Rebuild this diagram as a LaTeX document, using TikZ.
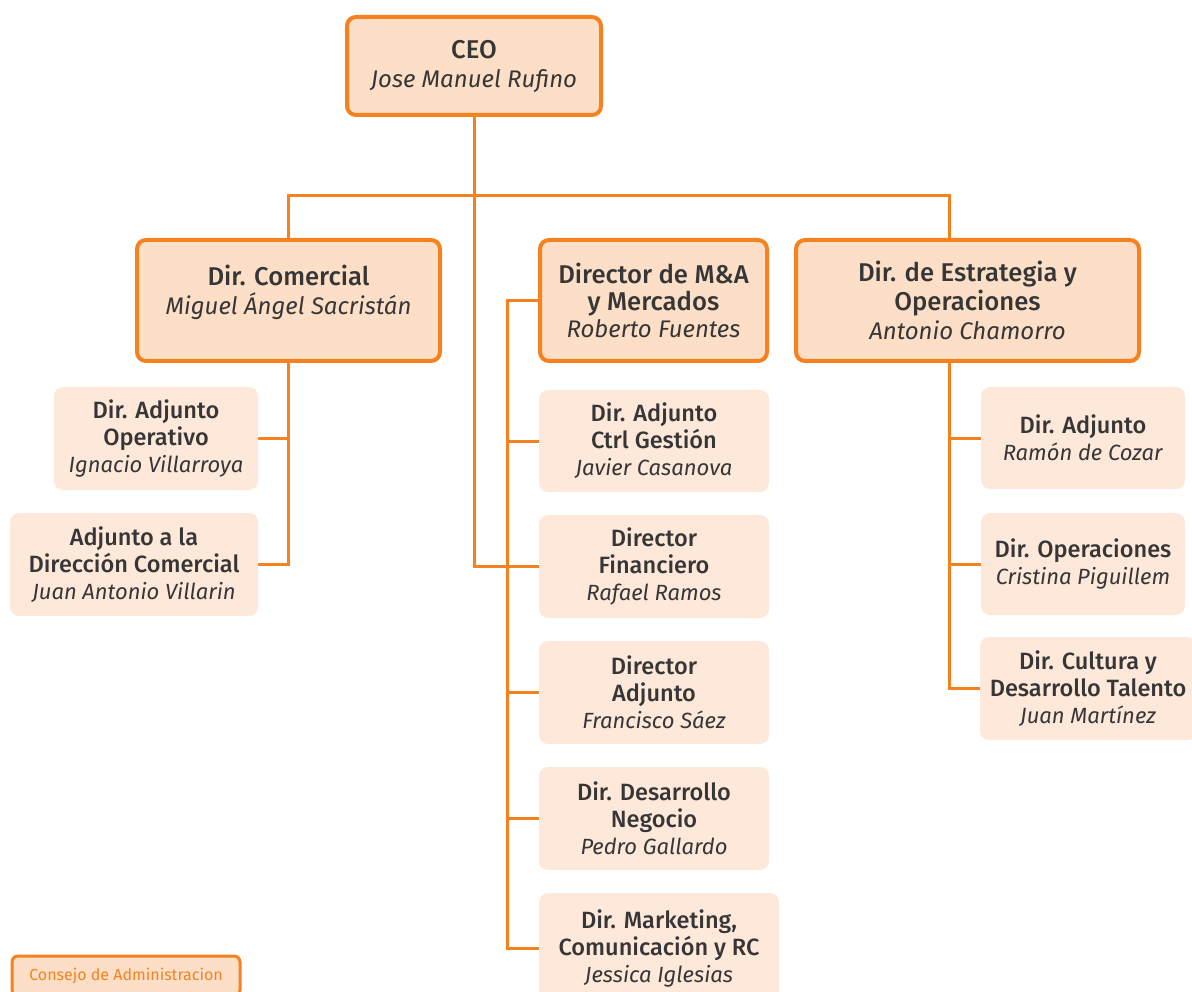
\documentclass[tikz,border=0pt]{standalone}
\usepackage{fontspec}
\setmainfont{Fira Sans}[BoldFont={* Medium}, BoldItalicFont={* Medium Italic}]
\usetikzlibrary{backgrounds}
\definecolor{org}{HTML}{F5821F}
\definecolor{mainfill}{HTML}{FCDFC6}
\definecolor{subfill}{HTML}{FDE8DA}
\definecolor{txt}{HTML}{363636}
\makeatletter
\newcommand{\tl}[1]{{\bfseries\fontsize{\dimexpr\f@size pt*107/100\relax}{\f@baselineskip}\selectfont #1}}
\makeatother
\newcommand{\nm}[1]{\textit{#1}}
\tikzset{
  mainbox/.style={draw=org, line width=4pt, fill=mainfill, rounded corners=9pt,
    align=center, text=txt, font=\fontsize{24}{29}\selectfont, inner sep=0pt},
  subbox/.style={fill=subfill, rounded corners=9pt, align=center, text=txt,
    font=\fontsize{22}{27}\selectfont, inner sep=0pt},
  legendbox/.style={draw=org, line width=3pt, fill=mainfill, rounded corners=6pt,
    text=org, font=\fontsize{16}{18}\selectfont, inner sep=0pt},
  conn/.style={draw=org, line width=3pt},
  sz/.style 2 args={minimum width=#1, minimum height=#2},
}
\begin{document}
\begin{tikzpicture}[x=1pt, y=-1pt]
\useasboundingbox (0,0) rectangle (1192,992);
\clip (0,0) rectangle (1192,992);

% main boxes
\node[mainbox, sz={254pt}{98pt}] (ceo) at (474,66) {\tl{CEO}\\\nm{Jose Manuel Rufino}};
\node[mainbox, sz={303pt}{121pt}] (dc) at (288.5,300.5) {\tl{Dir. Comercial}\\\nm{Miguel Ángel Sacristán}\\[-8pt]};
\node[mainbox, sz={227pt}{121pt}] (ma) at (653.5,300.5) {\tl{Director de M\&A}\\[-2pt]\tl{y Mercados}\\[-2pt]\nm{Roberto Fuentes}};
\node[mainbox, sz={343pt}{121pt}] (de) at (967.5,300.5) {\tl{Dir. de Estrategia y}\\\tl{Operaciones}\\\nm{Antonio Chamorro}};

% left sub boxes
\node[subbox, sz={204pt}{103pt}] (aco) at (156,438.5) {\tl{Dir. Adjunto}\\\tl{Operativo}\\\nm{Ignacio Villarroya}};
\node[subbox, sz={248pt}{103pt}] (acom) at (134,564.5) {\tl{Adjunto a la}\\\tl{Dirección Comercial}\\\nm{Juan Antonio Villarin}};

% middle sub boxes
\node[subbox, sz={230pt}{102pt}] (ctrl) at (654,441) {\tl{Dir. Adjunto}\\\tl{Ctrl Gestión}\\\nm{Javier Casanova}};
\node[subbox, sz={230pt}{103pt}] (fin) at (654,566.5) {\tl{Director}\\\tl{Financiero}\\\nm{Rafael Ramos}};
\node[subbox, sz={230pt}{103pt}] (adj) at (654,692.5) {\tl{Director}\\\tl{Adjunto}\\\nm{Francisco Sáez}};
\node[subbox, sz={230pt}{103pt}] (des) at (654,818.5) {\tl{Dir. Desarrollo}\\\tl{Negocio}\\\nm{Pedro Gallardo}};
\node[subbox, sz={240pt}{110pt}] (mk) at (659,948) {\tl{Dir. Marketing,}\\\tl{Comunicación y RC}\\\nm{Jessica Iglesias}};

% right sub boxes
\node[subbox, sz={204pt}{102pt}] (radj) at (1083,438) {\tl{Dir. Adjunto}\\\nm{Ramón de Cozar}};
\node[subbox, sz={204pt}{102pt}] (rop) at (1083,564) {\tl{Dir. Operaciones}\\\nm{Cristina Piguillem}};
\node[subbox, sz={216pt}{103pt}] (rcu) at (1088,688.5) {\tl{Dir. Cultura y}\\\tl{Desarrollo Talento}\\\nm{Juan Martínez}};

% legend
\node[legendbox, sz={228pt}{40pt}] (cons) at (126,976) {Consejo de Administracion};

\begin{pgfonlayer}{background}
  \coordinate (bus) at (474,196);
  \coordinate (dtop) at ([xshift=-18.5pt]de.north);
  \coordinate (dbot) at ([xshift=-18.5pt]de.south);
  \coordinate (mtop) at (507,300.5);
  % CEO
  \draw[conn] (ceo.south) -- (ceo.south |- fin.west) -- (fin.west);
  \draw[conn] (dc.north) |- (bus) -| (dtop);
  % Comercial
  \draw[conn] (dc.south) |- (acom.east);
  \draw[conn] (aco.east) -- (aco.east -| dc.south);
  % M&A
  \draw[conn] (ma.west) -- (mtop) |- (mk.west);
  \draw[conn] (ctrl.west) -- (ctrl.west -| mtop);
  \draw[conn] (adj.west) -- (adj.west -| mtop);
  \draw[conn] (des.west) -- (des.west -| mtop);
  % Estrategia
  \draw[conn] (dbot) |- (rcu.west);
  \draw[conn] (radj.west) -- (radj.west -| dbot);
  \draw[conn] (rop.west) -- (rop.west -| dbot);
\end{pgfonlayer}
\end{tikzpicture}
\end{document}
